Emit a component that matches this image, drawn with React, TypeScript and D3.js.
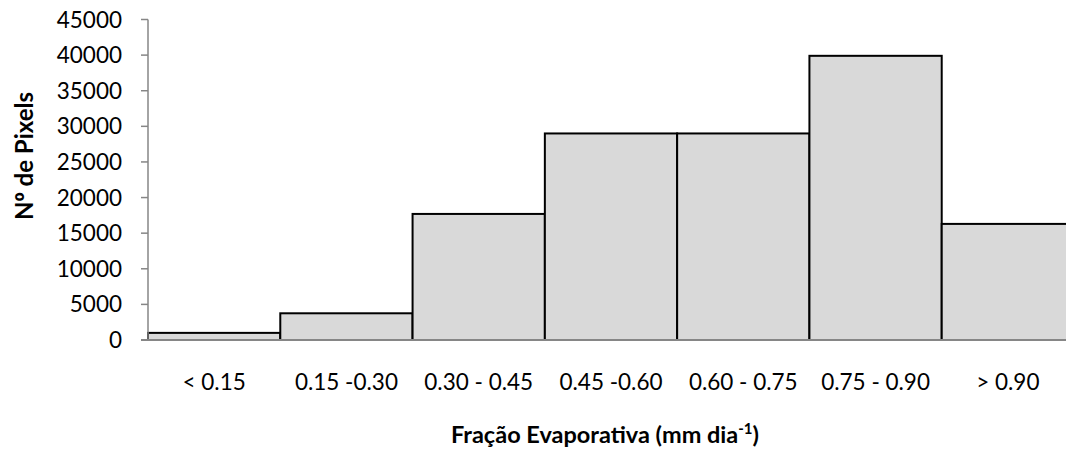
import React, { useEffect } from "react";
import * as d3 from "d3";

const categories = ["< 0.15", "0.15 -0.30", "0.30 - 0.45", "0.45 -0.60", "0.60 - 0.75", "0.75 - 0.90", "> 0.90"];
const pixelCounts = [1000, 3750, 17700, 29000, 29000, 39900, 16300];
const yTicks = [0, 5000, 10000, 15000, 20000, 25000, 30000, 35000, 40000, 45000];

const W = 1066;
const H = 452;
const left = 148;
const right = 1074;
const top = 19.5;
const bottom = 340;
const FONT = "Lato, 'Open Sans', 'DejaVu Sans', sans-serif";

export default function App() {
  useEffect(() => {
    document.body.style.margin = "0";
  }, []);

  const x = d3.scaleBand<string>().domain(categories).range([left, right]).padding(0);
  const y = d3.scaleLinear().domain([0, 45000]).range([bottom, top]);

  return (
    <svg width={W} height={H} style={{ display: "block", background: "#fff" }}>
      {categories.map((c, i) => (
        <rect
          key={c}
          x={x(c)}
          y={y(pixelCounts[i])}
          width={x.bandwidth()}
          height={bottom - y(pixelCounts[i])}
          fill="#d9d9d9"
          stroke="#000"
          strokeWidth={2}
        />
      ))}
      {/* y axis */}
      <line x1={left} x2={left} y1={top} y2={bottom} stroke="#868686" strokeWidth={1.5} />
      {yTicks.map((t) => (
        <g key={t}>
          <line x1={left - 7} x2={left} y1={y(t)} y2={y(t)} stroke="#868686" strokeWidth={1.5} />
          <text
            x={122}
            y={y(t)}
            dy="0.36em"
            textAnchor="end"
            fontFamily={FONT}
            fontSize={22.5}
            fill="#000"
          >
            {t}
          </text>
        </g>
      ))}
      {/* x axis */}
      <line x1={left - 7} x2={right} y1={bottom} y2={bottom} stroke="#868686" strokeWidth={2} />
      {categories.map((c) => (
        <text
          key={c}
          x={(x(c) as number) + x.bandwidth() / 2}
          y={382}
          dy="0.36em"
          textAnchor="middle"
          fontFamily={FONT}
          fontSize={22.5}
          fill="#000"
        >
          {c}
        </text>
      ))}
      <text
        transform={`translate(33,156) rotate(-90)`}
        textAnchor="middle"
        fontFamily={FONT}
        fontSize={24}
        fontWeight="bold"
        fill="#000"
      >
        N<tspan fontFamily="'Open Sans', sans-serif">º</tspan> de Pixels
      </text>
      <text x={605} y={443} textAnchor="middle" fontFamily={FONT} fontSize={23.5} fontWeight="bold" fill="#000">
        Fração Evaporativa (mm dia
        <tspan dy={-9} fontSize={15}>-1</tspan>
        <tspan dy={9}>)</tspan>
      </text>
    </svg>
  );
}
